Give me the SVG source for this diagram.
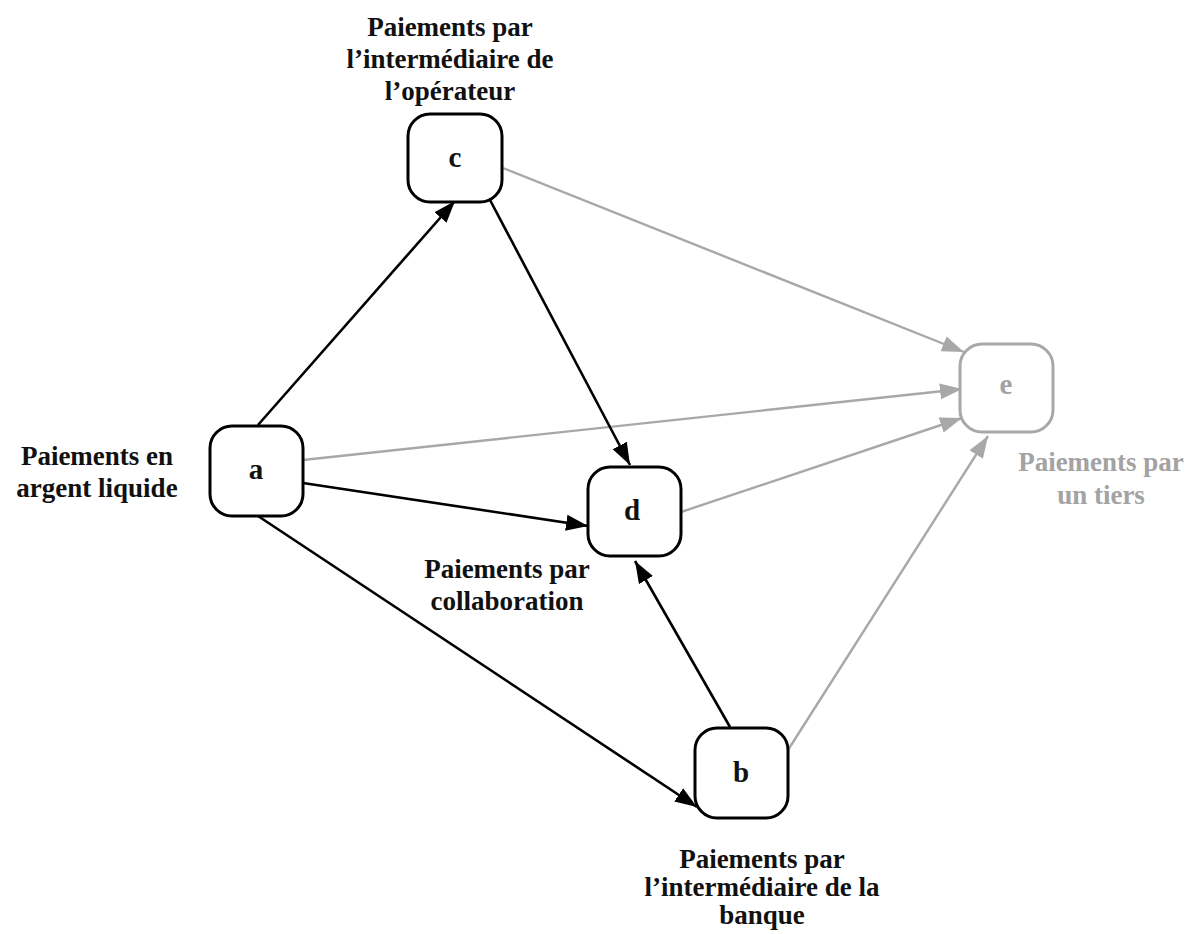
<svg xmlns="http://www.w3.org/2000/svg" width="1190" height="934" viewBox="0 0 1190 934">
<style>
.lbl{font-family:"Liberation Serif","Times New Roman",serif;font-weight:bold;font-size:27px;fill:#111;text-anchor:middle}
.node{fill:#fff;stroke:#000;stroke-width:3}
.gnode{fill:#fff;stroke:#a8a8a8;stroke-width:3}
.ltr{font-family:"Liberation Serif","Times New Roman",serif;font-weight:bold;font-size:29px;fill:#111;text-anchor:middle}
.glbl{fill:#a3a3a3}
.blk{stroke:#000;stroke-width:2.6;fill:none;marker-end:url(#ab)}
.gry{stroke:#a8a8a8;stroke-width:2.4;fill:none;marker-end:url(#ag)}
</style>
<defs>
<marker id="ab" markerUnits="userSpaceOnUse" markerWidth="24" markerHeight="18" refX="22" refY="8" orient="auto" viewBox="0 0 24 16">
<path d="M0,0 L22,8 L0,16 Z" fill="#000"/>
</marker>
<marker id="ag" markerUnits="userSpaceOnUse" markerWidth="24" markerHeight="18" refX="22" refY="8" orient="auto" viewBox="0 0 24 16">
<path d="M0,0 L22,8 L0,16 Z" fill="#a8a8a8"/>
</marker>
</defs>
<rect width="1190" height="934" fill="#fff"/>
<g id="connectors">
<line class="gry" x1="503" y1="168" x2="964" y2="352"/>
<line class="gry" x1="303" y1="460" x2="962" y2="389"/>
<line class="gry" x1="681" y1="512" x2="962" y2="418"/>
<line class="gry" x1="788" y1="750" x2="988" y2="436"/>
<line class="blk" x1="258" y1="425" x2="455" y2="201"/>
<line class="blk" x1="490" y1="200" x2="630" y2="465"/>
<line class="blk" x1="303" y1="483" x2="588" y2="526"/>
<line class="blk" x1="258" y1="516" x2="697" y2="807"/>
<line class="blk" x1="730" y1="727" x2="635" y2="561"/>
</g>
<g id="node-c">
<rect class="node" x="408" y="114" width="94" height="88" rx="22"/>
<text class="ltr" x="455" y="167">c</text>
<text class="lbl" x="450" y="36">Paiements par</text>
<text class="lbl" x="450" y="68">l’intermédiaire de</text>
<text class="lbl" x="450" y="100">l’opérateur</text>
</g>
<g id="node-a">
<rect class="node" x="210" y="426" width="93" height="90" rx="22"/>
<text class="ltr" x="256" y="479">a</text>
<text class="lbl" x="97" y="465">Paiements en</text>
<text class="lbl" x="97" y="497">argent liquide</text>
</g>
<g id="node-d">
<rect class="node" x="588" y="467" width="93" height="89" rx="22"/>
<text class="ltr" x="632" y="520">d</text>
<text class="lbl" x="507" y="578">Paiements par</text>
<text class="lbl" x="507" y="610">collaboration</text>
</g>
<g id="node-e">
<rect class="gnode" x="960" y="344" width="93" height="88" rx="22"/>
<text class="ltr glbl" x="1006" y="394">e</text>
<text class="lbl glbl" x="1101" y="471">Paiements par</text>
<text class="lbl glbl" x="1101" y="504">un  tiers</text>
</g>
<g id="node-b">
<rect class="node" x="695" y="728" width="93" height="90" rx="22"/>
<text class="ltr" x="741" y="782">b</text>
<text class="lbl" x="762" y="868">Paiements par</text>
<text class="lbl" x="762" y="896">l’intermédiaire de la</text>
<text class="lbl" x="762" y="924">banque</text>
</g>
</svg>
